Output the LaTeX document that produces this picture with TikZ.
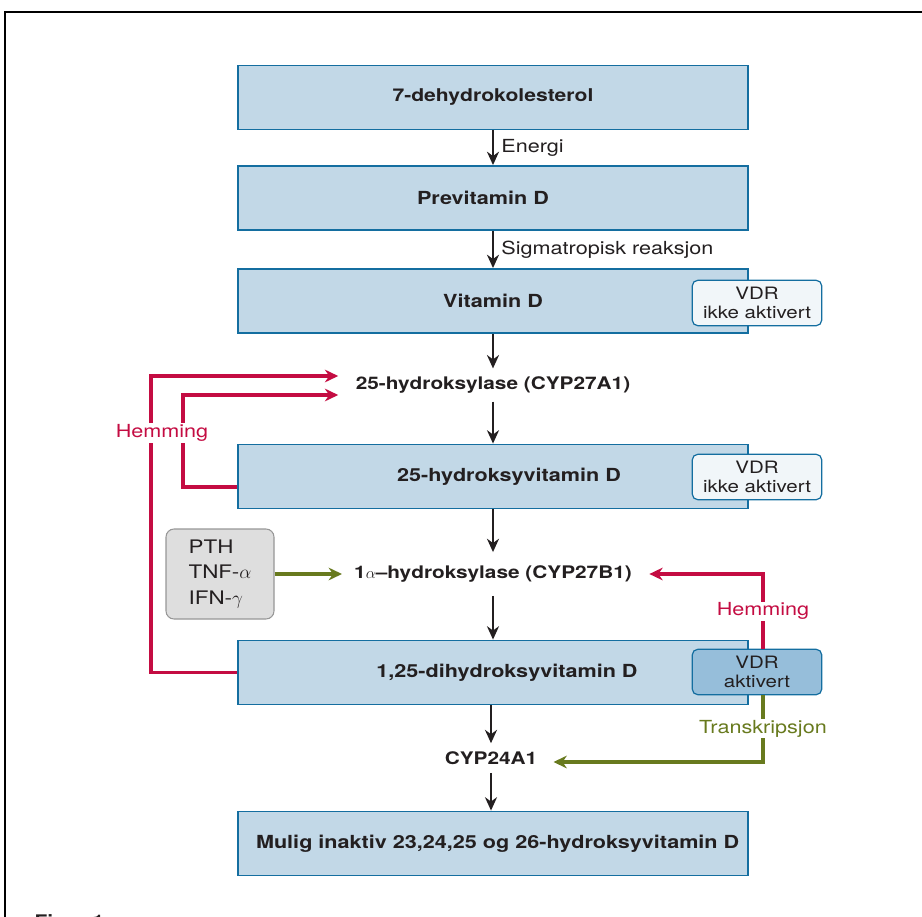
\documentclass[tikz,border=0pt]{standalone}
\usepackage{fontspec}
\setmainfont{TeX Gyre Heros}[FakeStretch=1.2]
\usepackage{xcolor}
\usetikzlibrary{positioning,arrows.meta}

\definecolor{boksbla}{RGB}{194,216,231}
\definecolor{kantbla}{RGB}{20,110,160}
\definecolor{blek}{RGB}{241,246,249}
\definecolor{mork}{RGB}{150,190,218}
\definecolor{hemrod}{RGB}{196,12,66}
\definecolor{transgronn}{RGB}{104,122,30}
\definecolor{graa}{RGB}{222,222,222}
\definecolor{graakant}{RGB}{150,150,150}
\definecolor{tekst}{RGB}{35,31,32}

\begin{document}
\begin{tikzpicture}[x=0.75pt,y=-0.75pt,text=tekst,
    boks/.style={draw=kantbla, fill=boksbla, line width=1.4pt, minimum width=382.5pt, minimum height=48pt, font=\bfseries\fontsize{13.5}{15}\selectfont},
    vdr/.style={draw=kantbla, fill=blek, line width=0.9pt, rounded corners=4pt, minimum width=97pt, minimum height=34pt, inner sep=1pt, align=center, font=\fontsize{12.8}{14}\selectfont},
    enzym/.style={font=\bfseries\fontsize{13}{15}\selectfont, inner xsep=3pt, inner ysep=6pt},
    etikett/.style={font=\fontsize{13.5}{15}\selectfont},
    pil/.style={-{Stealth[length=10pt,width=9pt]}, line width=2pt, draw=tekst},
    hem/.style={-{Stealth[length=10pt,width=9.5pt]}, line width=2.6pt, draw=hemrod, shorten >=10pt},
    trans/.style={-{Stealth[length=10pt,width=9.5pt]}, line width=2.6pt, draw=transgronn, shorten >=9pt}]
    \useasboundingbox (0,0) rectangle (922,917);
    \clip (0,0) rectangle (922,917);
    % ramme
    \draw[line width=1.5pt] (922,12) -- (5,12) -- (5,917);
    \node[anchor=north west, font=\bfseries\fontsize{13}{15}\selectfont] (figur) at (30,910) {Figur 1};

    % hovedboksene
    \node[boks, font=\bfseries\fontsize{13.2}{15}\selectfont] (dehydro) at (493,97.5) {7-dehydrokolesterol};
    \node[boks] (previt) at (493,198) {Previtamin D\hspace*{15pt}};
    \node[boks] (vitd) at (493,301) {Vitamin D};
    \node[boks] (vit25) at (493,476.5) {\hspace*{24pt}25-hydroksyvitamin D};
    \node[boks] (dihydr) at (493,672.5) {\hspace*{21pt}1,25-dihydroksyvitamin D};
    \node[boks] (inaktiv) at (493,843.5) {\hspace*{7pt}Mulig inaktiv 23,24,25 og 26-hydroksyvitamin D};

    % enzymer
    \node[enzym] (hydr25) at (493,385) {25-hydroksylase (CYP27A1)};
    \node[enzym, inner ysep=10pt] (hydr1a) at (493,574) {1$\alpha$--hydroksylase (CYP27B1)};
    \node[enzym] (cyp24) at (491,758) {CYP24A1};

    % VDR
    \node[vdr] (vdrA) at (757,303) {VDR\\ikke aktivert};
    \node[vdr] (vdrB) at (757,477) {VDR\\ikke aktivert};
    \node[vdr, fill=mork] (vdrC) at (757,672) {VDR\\aktivert};

    \node[draw=graakant, fill=graa, line width=0.8pt, rounded corners=6pt, minimum width=81pt, minimum height=67.5pt, align=left, font=\fontsize{14}{19}\selectfont] (pth) at (220,574) {PTH\\TNF-$\alpha$\\IFN-$\gamma$};

    % piler nedover
    \draw[pil] (dehydro) -- node[etikett, right=2pt] {Energi} (previt);
    \draw[pil] (previt) -- node[etikett, right=2pt] {Sigmatropisk reaksjon} (vitd);
    \draw[pil] (vitd) -- (hydr25);
    \draw[pil] (hydr25) -- (vit25);
    \draw[pil] (vit25) -- (hydr1a);
    \draw[pil] (hydr1a) -- (dihydr);
    \draw[pil] (dihydr.south -| cyp24) -- (cyp24);
    \draw[pil] (cyp24) -- (inaktiv.north -| cyp24);

    % hemming og transkripsjon
    \draw[hem] (dihydr.west) -- ++(-86,0) |- ([yshift=6.75pt]hydr25.west);
    \draw[hem] ([yshift=-8pt]vit25.west) -- ++(-54,0) |- ([yshift=-7.5pt]hydr25.west);
    \node[etikett, text=hemrod, fill=white, inner sep=1pt] (hemA) at (162,433) {Hemming};
    \draw[hem] ([xshift=4.5pt]vdrC.north) |- node[pos=0.25, etikett, text=hemrod, fill=white, inner sep=1pt] {Hemming} (hydr1a.east);
    \draw[trans] ([xshift=4.5pt]vdrC.south) |- node[pos=0.25, etikett, text=transgronn, fill=white, inner sep=1pt] {Transkripsjon} ([yshift=-3pt]cyp24.east);
    \draw[trans, shorten >=6pt] (pth) -- (hydr1a);
\end{tikzpicture}
\end{document}
